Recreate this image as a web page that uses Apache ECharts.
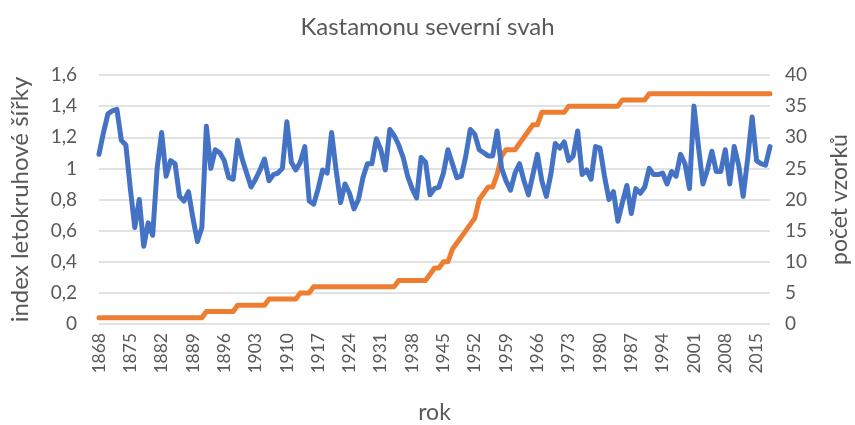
<!DOCTYPE html>
<html>
<head>
<meta charset="utf-8">
<script src="https://cdn.jsdelivr.net/npm/echarts@6/dist/echarts.min.js"></script>
<style>
  html, body { margin: 0; padding: 0; background: #fff; }
  #chart { width: 855px; height: 425px; }
</style>
</head>
<body>
<div id="chart"></div>
<script>
// roky 1868–2018
const years = [];
for (let y = 1868; y <= 2018; y++) years.push(String(y));

// index letokruhové šířky (levá osa)
const ringIndex = [
  1.09, 1.23,
  1.35, 1.37, 1.38, 1.18, 1.15, 0.87, 0.62, 0.80, 0.50, 0.65,
  0.57, 1.00, 1.23, 0.95, 1.05, 1.03, 0.82, 0.79, 0.85, 0.68,
  0.53, 0.62, 1.27, 1.00, 1.12, 1.10, 1.05, 0.94, 0.93, 1.18,
  1.06, 0.97, 0.88, 0.93, 0.99, 1.06, 0.92, 0.96, 0.97, 1.00,
  1.30, 1.04, 0.99, 1.04, 1.14, 0.79, 0.77, 0.87, 0.99, 0.97,
  1.23, 0.99, 0.78, 0.90, 0.84, 0.74, 0.80, 0.94, 1.03, 1.03,
  1.19, 1.12, 0.99, 1.25, 1.21, 1.15, 1.07, 0.95, 0.87, 0.81,
  1.07, 1.04, 0.83, 0.87, 0.88, 0.97, 1.12, 1.03, 0.94, 0.95,
  1.08, 1.25, 1.22, 1.12, 1.10, 1.08, 1.08, 1.24, 1.00, 0.92,
  0.86, 0.97, 1.03, 0.92, 0.83, 0.96, 1.09, 0.92, 0.82, 0.96,
  1.16, 1.13, 1.17, 1.05, 1.08, 1.24, 0.96, 0.99, 0.93, 1.14,
  1.13, 0.95, 0.80, 0.85, 0.66, 0.78, 0.89, 0.71, 0.87, 0.84,
  0.88, 1.00, 0.96, 0.96, 0.97, 0.90, 0.98, 0.95, 1.09, 1.03,
  0.87, 1.40, 1.14, 0.90, 0.99, 1.11, 0.98, 0.98, 1.12, 0.90,
  1.14, 1.02, 0.82, 1.06, 1.33, 1.05, 1.03, 1.02, 1.14
];

// počet vzorků (pravá osa)
const sampleCount = [
  1, 1,
  1, 1, 1, 1, 1, 1, 1, 1, 1, 1,
  1, 1, 1, 1, 1, 1, 1, 1, 1, 1,
  1, 1, 2, 2, 2, 2, 2, 2, 2, 3,
  3, 3, 3, 3, 3, 3, 4, 4, 4, 4,
  4, 4, 4, 5, 5, 5, 6, 6, 6, 6,
  6, 6, 6, 6, 6, 6, 6, 6, 6, 6,
  6, 6, 6, 6, 6, 7, 7, 7, 7, 7,
  7, 7, 8, 9, 9, 10, 10, 12, 13, 14,
  15, 16, 17, 20, 21, 22, 22, 24, 27, 28,
  28, 28, 29, 30, 31, 32, 32, 34, 34, 34,
  34, 34, 34, 35, 35, 35, 35, 35, 35, 35,
  35, 35, 35, 35, 35, 36, 36, 36, 36, 36,
  36, 37, 37, 37, 37, 37, 37, 37, 37, 37,
  37, 37, 37, 37, 37, 37, 37, 37, 37, 37,
  37, 37, 37, 37, 37, 37, 37, 37, 37
];

const FONT = 'Lato, "Open Sans", sans-serif';
const TXT = '#595959';

const chart = echarts.init(document.getElementById('chart'));

chart.setOption({
  animation: false,
  backgroundColor: '#fff',
  title: {
    text: 'Kastamonu severní svah',
    left: 'center',
    top: 10,
    textStyle: { fontFamily: FONT, fontSize: 24, fontWeight: 'normal', color: TXT }
  },
  grid: {
    left: 99, right: 85, top: 75, bottom: 101,
    containLabel: false,
    outerBoundsMode: 'none'
  },
  xAxis: {
    type: 'category',
    data: years,
    boundaryGap: false,
    name: 'rok',
    nameLocation: 'middle',
    nameGap: 77,
    nameTextStyle: { fontFamily: FONT, fontSize: 23, color: TXT },
    axisLine: { show: false },
    axisTick: { show: false },
    axisLabel: {
      interval: 6,
      rotate: 90,
      margin: 9,
      fontFamily: FONT,
      fontSize: 17.5,
      color: TXT
    }
  },
  yAxis: [
    {
      type: 'value',
      min: 0,
      max: 1.6,
      interval: 0.2,
      name: 'index letokruhové šířky',
      nameLocation: 'middle',
      nameRotate: 90,
      nameGap: 67,
      nameTextStyle: { fontFamily: FONT, fontSize: 24, color: TXT },
      axisLine: { show: false },
      axisTick: { show: false },
      axisLabel: {
        margin: 22,
        fontFamily: FONT,
        fontSize: 19,
        color: TXT,
        formatter: v => String(Math.round(v * 10) / 10).replace('.', ',')
      },
      splitLine: { lineStyle: { color: '#d9d9d9', width: 1.5 } }
    },
    {
      type: 'value',
      min: 0,
      max: 40,
      interval: 5,
      name: 'počet vzorků',
      nameLocation: 'middle',
      nameRotate: 90,
      nameGap: 58,
      nameTextStyle: { fontFamily: FONT, fontSize: 23, color: TXT },
      axisLine: { show: false },
      axisTick: { show: false },
      axisLabel: { margin: 15, fontFamily: FONT, fontSize: 19, color: TXT },
      splitLine: { show: false }
    }
  ],
  series: [
    {
      name: 'index',
      type: 'line',
      data: ringIndex,
      yAxisIndex: 0,
      showSymbol: false,
      symbol: 'none',
      lineStyle: { color: '#4472C4', width: 5, cap: 'round', join: 'round' },
      z: 3
    },
    {
      name: 'počet vzorků',
      type: 'line',
      data: sampleCount,
      yAxisIndex: 1,
      showSymbol: false,
      symbol: 'none',
      lineStyle: { color: '#ED7D31', width: 5, cap: 'round', join: 'round' },
      z: 2
    }
  ]
});
</script>
</body>
</html>
